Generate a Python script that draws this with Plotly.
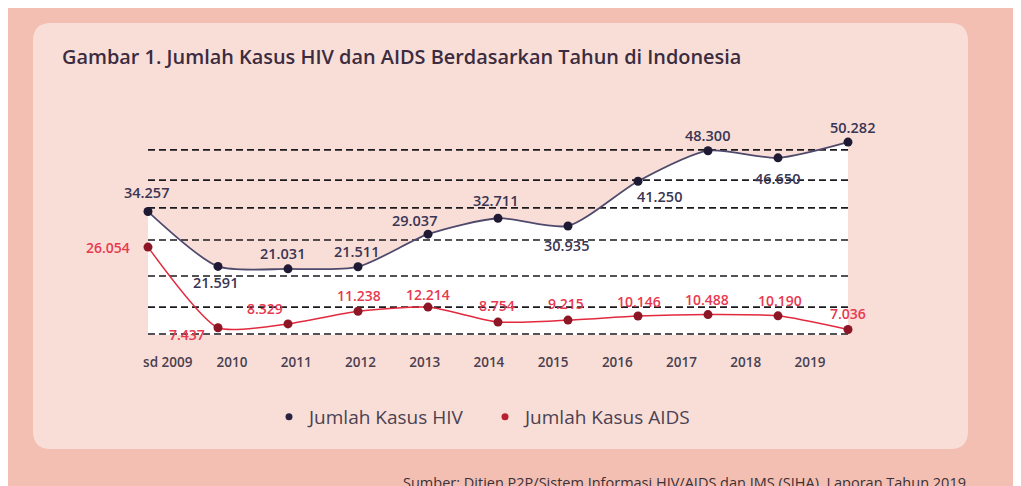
import plotly.graph_objects as go

# ---------------- data ----------------
YEARS = ["sd 2009", "2010", "2011", "2012", "2013", "2014", "2015", "2016", "2017", "2018", "2019"]
HIV = [34257, 21591, 21031, 21511, 29037, 32711, 30935, 41250, 48300, 46650, 50282]
AIDS = [26054, 7437, 8329, 11238, 12214, 8754, 9215, 10146, 10488, 10190, 7036]
GRID_VALUES = [6000, 12200, 19400, 27700, 35100, 41500, 48500]

# label offsets (pixels, dx, dy-down) for data labels
HIV_LABEL_OFFSETS = [(-2, -19), (-3, 16), (-6, -15), (-2, -15), (-14, -14), (-3, -18),
                     (-2, 20), (21, 15), (-1, -15), (-1, 21), (4, -15)]
AIDS_LABEL_OFFSETS = [(-40, 0), (-31, 7), (-23, -15), (1, -16), (0, -13), (-1, -17),
                      (-2, -17), (1, -15), (-1, -15), (2, -15), (0, -16)]

def fmt(v):
    return f"{v:,}".replace(",", ".")

# ---------------- geometry (figure pixels; page adds an 8px body margin) ----------------
W_TOT, H_TOT = 1013, 478
L, R, T, B = 140, 171, 92, 151
PW, PH = W_TOT - L - R, H_TOT - T - B

def px(x):
    return (x - L) / PW

def py(y):
    return (H_TOT - B - y) / PH

X = list(range(len(YEARS)))

FONT = "Open Sans"
HIV_LINE = "#4f4a6c"
HIV_MARK = "#1e1a33"
AIDS_LINE = "#e2293d"
AIDS_MARK = "#8c1526"
HIV_TXT = "#3a3552"
AIDS_TXT = "#e8394f"

fig = go.Figure()

# white area under HIV curve
fig.add_trace(go.Scatter(
    x=X, y=HIV, mode="lines", line=dict(width=0, shape="spline", smoothing=0.7),
    fill="tozeroy", fillcolor="white", showlegend=False, hoverinfo="skip"))

# dashed guide lines
for g in GRID_VALUES:
    fig.add_trace(go.Scatter(
        x=[X[0], X[-1]], y=[g, g], mode="lines",
        line=dict(color="#1c1a1f", width=1.6, dash="7px,4px"),
        showlegend=False, hoverinfo="skip"))

fig.add_trace(go.Scatter(
    x=X, y=AIDS, mode="lines+markers", name="Jumlah Kasus AIDS",
    line=dict(color=AIDS_LINE, width=1.5, shape="spline", smoothing=0.6),
    marker=dict(color=AIDS_MARK, size=9), cliponaxis=False, showlegend=False))

fig.add_trace(go.Scatter(
    x=X, y=HIV, mode="lines+markers", name="Jumlah Kasus HIV",
    line=dict(color=HIV_LINE, width=1.8, shape="spline", smoothing=0.7),
    marker=dict(color=HIV_MARK, size=9), cliponaxis=False, showlegend=False))

# legend entries (dot only)
fig.add_trace(go.Scatter(x=[None], y=[None], mode="markers", name="Jumlah Kasus HIV",
                         marker=dict(color="#2a2340", size=7)))
fig.add_trace(go.Scatter(x=[None], y=[None], mode="markers", name="Jumlah Kasus AIDS",
                         marker=dict(color="#b8202f", size=7)))

# dummy trace for the label axis
fig.add_trace(go.Scatter(x=X, y=[None] * len(X), xaxis="x2", mode="markers",
                         showlegend=False, hoverinfo="skip"))

annotations = []
for i, v in enumerate(HIV):
    dx, dy = HIV_LABEL_OFFSETS[i]
    annotations.append(dict(x=X[i], y=v, xref="x", yref="y", text=fmt(v), showarrow=False,
                            xshift=dx, yshift=-dy,
                            font=dict(family=FONT, size=14.5, color=HIV_TXT, weight=600)))
for i, v in enumerate(AIDS):
    dx, dy = AIDS_LABEL_OFFSETS[i]
    annotations.append(dict(x=X[i], y=v, xref="x", yref="y", text=fmt(v), showarrow=False,
                            xshift=dx, yshift=-dy,
                            font=dict(family=FONT, size=14, color=AIDS_TXT, weight=600)))

annotations.append(dict(
    x=px(960), y=py(474), xref="paper", yref="paper", xanchor="right", yanchor="middle",
    text="Sumber: Ditjen P2P/Sistem Informasi HIV/AIDS dan IMS (SIHA), Laporan Tahun 2019",
    showarrow=False, font=dict(family=FONT, size=14.5, color="#3a3038")))

# rounded inner panel
r = 18
x0, x1, y0, y1 = 25, 960, 15, 441
path = (f"M {x0 + r},{y0} L {x1 - r},{y0} Q {x1},{y0} {x1},{y0 + r} "
        f"L {x1},{y1 - r} Q {x1},{y1} {x1 - r},{y1} L {x0 + r},{y1} "
        f"Q {x0},{y1} {x0},{y1 - r} L {x0},{y0 + r} Q {x0},{y0} {x0 + r},{y0} Z")

def conv_path(p):
    out = []
    for tok in p.split(" "):
        if "," in tok:
            a, b = tok.split(",")
            out.append(f"{px(float(a)):.5f},{py(float(b)):.5f}")
        else:
            out.append(tok)
    return " ".join(out)

shapes = [
    dict(type="path", xref="paper", yref="paper", path=conv_path(path),
         fillcolor="#f9ded8", line=dict(width=0), layer="below"),
]

fig.update_layout(
    width=W_TOT, height=H_TOT,
    margin=dict(l=L, r=R, t=T, b=B),
    paper_bgcolor="#f4bfb3", plot_bgcolor="rgba(0,0,0,0)",
    title=dict(text="Gambar 1. Jumlah Kasus HIV dan AIDS Berdasarkan Tahun di Indonesia",
               x=54 / W_TOT, xanchor="left", xref="container",
               y=1 - 49 / H_TOT, yanchor="middle", yref="container",
               font=dict(family=FONT, size=19.9, color="#3b2c3f", weight=600)),
    xaxis=dict(range=[0, PW / 70], showgrid=False, zeroline=False, showline=False,
               showticklabels=False, fixedrange=True),
    xaxis2=dict(overlaying="x", anchor="y", side="bottom",
                range=[1 - (224 - L) / 64.22, 1 + (L + PW - 224) / 64.22],
                tickmode="array", tickvals=X, ticktext=YEARS,
                ticks="outside", ticklen=15, tickcolor="rgba(0,0,0,0)",
                showgrid=False, zeroline=False, showline=False,
                tickfont=dict(family=FONT, size=13.5, color="#4a3f4f", weight=600)),
    yaxis=dict(range=[5770, 60000], showgrid=False, zeroline=False, showline=False,
               showticklabels=False),
    showlegend=True,
    legend=dict(orientation="h", xref="container", yref="container",
                x=261 / W_TOT, xanchor="left", y=1 - 409 / H_TOT, yanchor="middle",
                bgcolor="rgba(0,0,0,0)", entrywidth=171, entrywidthmode="pixels",
                font=dict(family=FONT, size=19, color="#4b4150"),
                itemclick=False, itemdoubleclick=False),
    annotations=annotations,
    shapes=shapes,
)

fig.write_html("out.html")
